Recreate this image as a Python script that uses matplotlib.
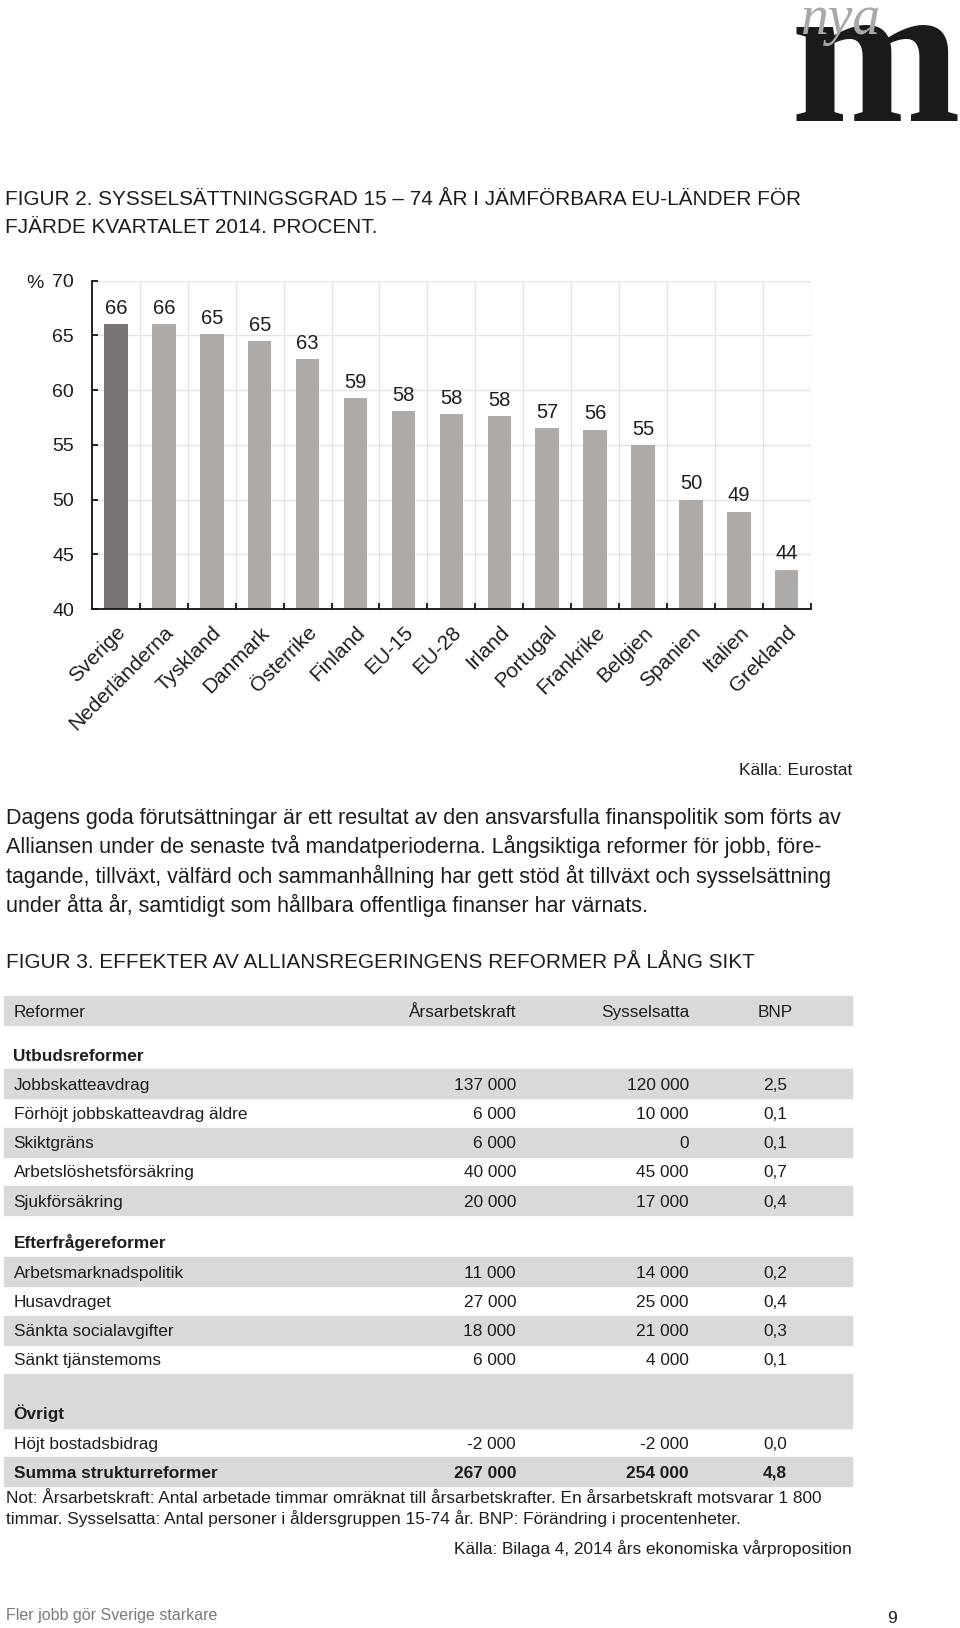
import matplotlib
matplotlib.use("Agg")
import matplotlib.pyplot as plt
from matplotlib.patches import Rectangle
import numpy as np

W, H = 960, 1628

# Figur 2 data
countries = ["Sverige", "Nederländerna", "Tyskland", "Danmark", "Österrike",
             "Finland", "EU-15", "EU-28", "Irland", "Portugal", "Frankrike",
             "Belgien", "Spanien", "Italien", "Grekland"]
rates = [66.0, 66.0, 65.1, 64.5, 62.8, 59.3, 58.1, 57.8, 57.6, 56.5, 56.4,
         55.0, 50.0, 48.9, 43.6]
rate_labels = [66, 66, 65, 65, 63, 59, 58, 58, 58, 57, 56, 55, 50, 49, 44]
yticks = [40, 45, 50, 55, 60, 65, 70]

# Figur 3 data
table_header = ["Reformer", "Årsarbetskraft", "Sysselsatta", "BNP"]
supply_title = "Utbudsreformer"
supply_reforms = ["Jobbskatteavdrag", "Förhöjt jobbskatteavdrag äldre",
                  "Skiktgräns", "Arbetslöshetsförsäkring", "Sjukförsäkring"]
supply_arsarb = [137000, 6000, 6000, 40000, 20000]
supply_syss = [120000, 10000, 0, 45000, 17000]
supply_bnp = [2.5, 0.1, 0.1, 0.7, 0.4]
demand_title = "Efterfrågereformer"
demand_reforms = ["Arbetsmarknadspolitik", "Husavdraget",
                  "Sänkta socialavgifter", "Sänkt tjänstemoms"]
demand_arsarb = [11000, 27000, 18000, 6000]
demand_syss = [14000, 25000, 21000, 4000]
demand_bnp = [0.2, 0.4, 0.3, 0.1]
other_title = "Övrigt"
other_reforms = ["Höjt bostadsbidrag"]
other_arsarb = [-2000]
other_syss = [-2000]
other_bnp = [0.0]
total_name = "Summa strukturreformer"
total_arsarb = 267000
total_syss = 254000
total_bnp = 4.8

title2 = ["FIGUR 2. SYSSELSÄTTNINGSGRAD 15 – 74 ÅR I JÄMFÖRBARA EU-LÄNDER FÖR",
          "FJÄRDE KVARTALET 2014. PROCENT."]
paragraph = ["Dagens goda förutsättningar är ett resultat av den ansvarsfulla finanspolitik som förts av",
             "Alliansen under de senaste två mandatperioderna. Långsiktiga reformer för jobb, före-",
             "tagande, tillväxt, välfärd och sammanhållning har gett stöd åt tillväxt och sysselsättning",
             "under åtta år, samtidigt som hållbara offentliga finanser har värnats."]
title3 = "FIGUR 3. EFFEKTER AV ALLIANSREGERINGENS REFORMER PÅ LÅNG SIKT"
note = ["Not: Årsarbetskraft: Antal arbetade timmar omräknat till årsarbetskrafter. En årsarbetskraft motsvarar 1 800",
        "timmar. Sysselsatta: Antal personer i åldersgruppen 15-74 år. BNP: Förändring i procentenheter."]

plt.rcParams['font.family'] = ['Liberation Sans', 'DejaVu Sans']
INK = '#1d1d1b'
BAND = '#d9d9da'

fig = plt.figure(figsize=(W / 100, H / 100), dpi=100)
fig.patch.set_facecolor('white')
renderer = fig.canvas.get_renderer()


def ftext(x, y, s, **kw):
    kw.setdefault('color', INK)
    return fig.text(x / W, 1 - y / H, s, **kw)


def fit(t, width_px):
    # scale the font so the string spans width_px
    bb = t.get_window_extent(renderer)
    t.set_fontsize(t.get_fontsize() * width_px / bb.width)
    return t.get_fontsize()


def band(y0, y1):
    fig.patches.append(Rectangle((4 / W, 1 - y1 / H), (852 - 4) / W, (y1 - y0) / H,
                                 transform=fig.transFigure, color=BAND, zorder=0))


def num(v):
    return f"{v:,}".replace(",", " ")


def dec(v):
    return f"{v:.1f}".replace(".", ",")


# logo
ftext(791, 121, "m", family='Liberation Serif', weight='bold', fontsize=147,
      color='#1a1a1a', va='baseline')
ftext(800, 34, "nya", family='Liberation Serif', style='italic', fontsize=40,
      color='#a8a8a8', va='baseline')

# title figure 2
t = ftext(5, 205, title2[0], fontsize=16, va='baseline')
fs = fit(t, 797)
ftext(5, 233, title2[1], fontsize=fs, va='baseline')

# bar chart
ax = fig.add_axes([92 / W, 1 - 609 / H, (810.7 - 92) / W, (609 - 280.7) / H])
x = np.arange(len(countries))
colors = ['#797473'] + ['#aeaaa8'] * (len(countries) - 1)
bars = ax.bar(x, rates, width=0.49, color=colors, zorder=2)
ax.bar_label(bars, labels=[str(v) for v in rate_labels], padding=4.5,
             fontsize=14.5, color=INK)
ax.set_xlim(-0.5, len(countries) - 0.5)
ax.set_ylim(40, 70)
ax.set_yticks(yticks)
ax.set_xticks(x)
ax.set_xticklabels(countries, rotation=45, ha='right', va='top',
                   rotation_mode='anchor', fontsize=15, color=INK)
ax.set_xticks(np.arange(0.5, len(countries), 1), minor=True)
ax.yaxis.grid(True, color='#e4e4e4', lw=1, zorder=0)
ax.xaxis.grid(True, which='minor', color='#e4e4e4', lw=1, zorder=0)
ax.set_axisbelow(True)
ax.tick_params(axis='y', direction='in', length=4.5, width=1.2, pad=13,
               labelsize=14, labelcolor=INK)
ax.tick_params(axis='x', which='major', length=0, pad=10)
ax.tick_params(axis='x', which='minor', direction='in', length=4.5, width=1.2)
for side in ['top', 'right']:
    ax.spines[side].set_visible(False)
for side in ['left', 'bottom']:
    ax.spines[side].set_linewidth(1.3)
    ax.spines[side].set_color('#111111')
ftext(26, 288, "%", fontsize=14, va='baseline')
ftext(852, 775, "Källa: Eurostat", fontsize=12.5, ha='right', va='baseline')

# paragraph
t = ftext(5.5, 824, paragraph[0], fontsize=14, va='baseline')
fs = fit(t, 845)
for i, line in enumerate(paragraph[1:], start=1):
    ftext(5.5, 824 + 29.4 * i, line, fontsize=fs, va='baseline')

t = ftext(5.5, 968, title3, fontsize=fs, va='baseline')
fit(t, 746)

# table
COLS = [13.5, 516, 689, 775]
TFS = 12.4


def row(yc, cells, bold=False, shade=False, h=29.2):
    if shade:
        band(yc - h / 2, yc + h / 2)
    w = 'bold' if bold else 'normal'
    ftext(COLS[0], yc + 6, cells[0], fontsize=TFS, weight=w, va='baseline')
    if len(cells) > 1:
        ftext(COLS[1], yc + 6, cells[1], fontsize=TFS, weight=w, ha='right', va='baseline')
        ftext(COLS[2], yc + 6, cells[2], fontsize=TFS, weight=w, ha='right', va='baseline')
        ftext(COLS[3], yc + 6, cells[3], fontsize=TFS, weight=w, ha='center', va='baseline')


row(1010.5, table_header, shade=True)
y = 1054.6
row(y, [supply_title], bold=True)
for i, name in enumerate(supply_reforms):
    y += 29.2
    row(y, [name, num(supply_arsarb[i]), num(supply_syss[i]), dec(supply_bnp[i])],
        shade=(i % 2 == 0))
y += 41
row(y, [demand_title], bold=True)
y += 1
for i, name in enumerate(demand_reforms):
    y += 29.2
    row(y, [name, num(demand_arsarb[i]), num(demand_syss[i]), dec(demand_bnp[i])],
        shade=(i % 2 == 0))
band(y + 14.6, y + 14.6 + 54)
y += 54
row(y, [other_title], bold=True)
for i, name in enumerate(other_reforms):
    y += 29.2
    row(y, [name, num(other_arsarb[i]), num(other_syss[i]), dec(other_bnp[i])])
y += 29.2
row(y, [total_name, num(total_arsarb), num(total_syss), dec(total_bnp)],
    bold=True, shade=True)

t = ftext(5.5, 1503, note[0], fontsize=12, va='baseline')
fs = fit(t, 815)
ftext(5.5, 1524, note[1], fontsize=fs, va='baseline')
ftext(852, 1554, "Källa: Bilaga 4, 2014 års ekonomiska vårproposition",
      fontsize=fs, ha='right', va='baseline')

# footer
ftext(5.5, 1620, "Fler jobb gör Sverige starkare", fontsize=11.5,
      color='#7a7a7a', va='baseline')
ftext(892, 1623, "9", fontsize=12.5, ha='center', va='baseline')

fig.savefig("out.png", dpi=100, facecolor='white')
